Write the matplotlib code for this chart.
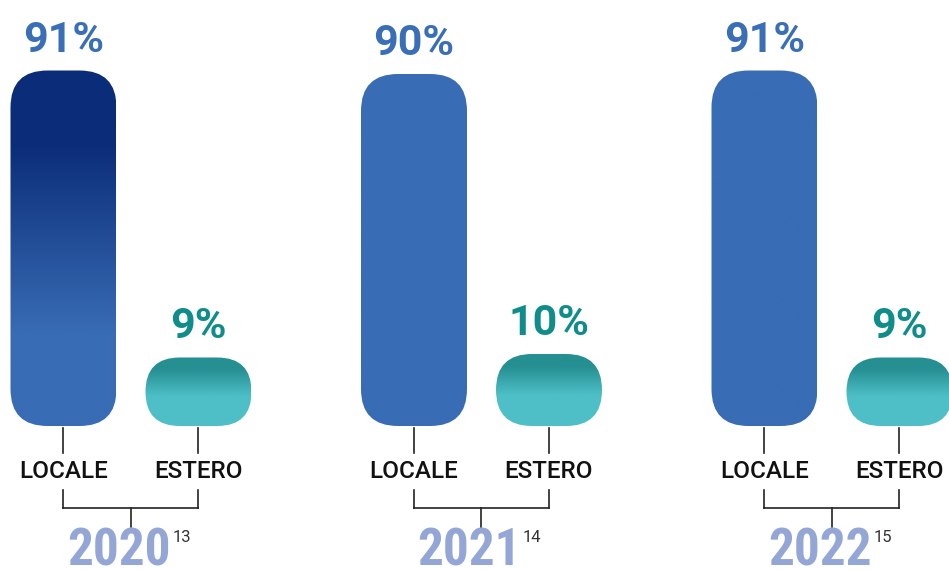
import numpy as np
import matplotlib
matplotlib.use("Agg")
import matplotlib.pyplot as plt
from matplotlib.patches import FancyBboxPatch
from matplotlib.colors import LinearSegmentedColormap
from matplotlib import font_manager

years = ["2020", "2021", "2022"]
notes = ["13", "14", "15"]
categories = ["LOCALE", "ESTERO"]
locale = [91, 90, 91]
estero = [9, 10, 9]

# available families
names = {f.name for f in font_manager.fontManager.ttflist}


def pick(cands, default="DejaVu Sans"):
    for c in cands:
        if c in names:
            return c
    return default


MAIN = pick(["Roboto", "DejaVu Sans"])
COND = pick(["Roboto Condensed", "Liberation Sans Narrow", "DejaVu Sans Condensed"], MAIN)

W, H = 949, 570
fig = plt.figure(figsize=(W / 100, H / 100), dpi=100)
ax = fig.add_axes([0, 0, 1, 1])
ax.set_xlim(0, W)
ax.set_ylim(H, 0)
ax.axis("off")

BASE = 426      # bottom of bars
K = 3.5         # px per percent
PAD = 37        # minimum pill height
BW = 106
GROUP_X = [63.5, 414, 764.5]
DX = 135

NAVY = "#0b2c78"
BLUE = "#386cb4"
TEAL_D = "#258f92"
TEAL_L = "#4ebfc7"


def gradient_bar(xc, value, stops):
    h = PAD + value * K
    x0 = xc - BW / 2
    top = BASE - h
    r = min(37, h / 2)
    patch = FancyBboxPatch((x0, top), BW, h,
                           boxstyle=f"round,pad=0,rounding_size={r}",
                           fc="none", ec="none")
    ax.add_patch(patch)
    cmap = LinearSegmentedColormap.from_list("g", stops)
    grad = np.linspace(0, 1, 256).reshape(-1, 1)
    im = ax.imshow(grad, cmap=cmap, aspect="auto", origin="upper",
                   extent=(x0, x0 + BW, BASE, top), interpolation="bilinear")
    im.set_clip_path(patch)
    return top


for i, yr in enumerate(years):
    gx = GROUP_X[i]
    xl, xe = gx, gx + DX

    if i == 0:
        stops_l = [(0, NAVY), (0.2, NAVY), (0.74, BLUE), (1, BLUE)]
    else:
        stops_l = [(0, BLUE), (1, BLUE)]
    stops_e = [(0, TEAL_D), (0.17, TEAL_D), (0.57, TEAL_L), (1, TEAL_L)]

    top_l = gradient_bar(xl, locale[i], stops_l)
    top_e = gradient_bar(xe, estero[i], stops_e)

    ax.text(xl, top_l - 19, f"{locale[i]}%", ha="center", va="baseline",
            fontsize=31, fontweight="bold", color="#3a6fb8", family=MAIN)
    ax.text(xe, top_e - 19, f"{estero[i]}%", ha="center", va="baseline",
            fontsize=31, fontweight="bold", color="#0f8d8b", family=MAIN)

    # ticks, labels and bracket
    for x, lab in zip((xl, xe), categories):
        ax.plot([x, x], [428, 453], color="#222222", lw=1.2)
        ax.text(x, 471, lab, ha="center", va="center", fontsize=17.5,
                fontweight="medium", color="#111111", family=MAIN)
        ax.plot([x, x], [490, 508], color="#222222", lw=1.2)
    ax.plot([xl, xe], [508, 508], color="#222222", lw=1.2)
    mid = (xl + xe) / 2
    ax.plot([mid, mid], [508, 527], color="#222222", lw=1.2)

    t = ax.text(mid - 12, 566, yr, ha="center", va="baseline", fontsize=37,
                fontweight="bold", color="#93a6d6", family=COND,
                fontstretch="condensed")
    ax.annotate(notes[i], xy=(1, 1), xycoords=t, xytext=(1, -2),
                textcoords="offset points", ha="left", va="top",
                fontsize=12, color="#333333", family=MAIN)

fig.savefig("out.png", dpi=100)
